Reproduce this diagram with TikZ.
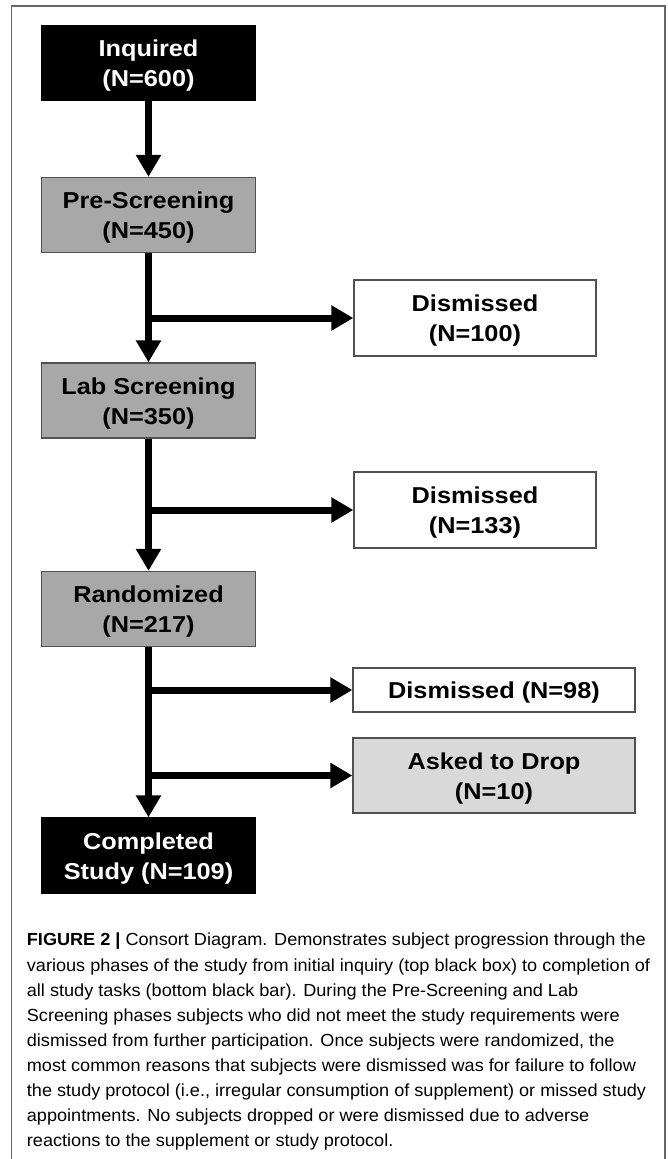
\documentclass[tikz,border=0pt]{standalone}
\usepackage{fontspec}
\setmainfont{Liberation Sans}
\newfontfamily\boxfont{Liberation Sans}[FakeStretch=1.1]
\newfontfamily\capfont{Liberation Sans}[FakeStretch=1.035]
\usetikzlibrary{arrows.meta}
\definecolor{boxline}{HTML}{505050}
\definecolor{boxgray}{HTML}{A8A8A8}
\definecolor{droplight}{HTML}{D9D9D9}
\definecolor{framegray}{HTML}{666666}
\newcommand\mystrut{\rule{0pt}{22pt}}
\begin{document}
\begin{tikzpicture}[x=1pt,y=-1pt,
  box/.style={draw=boxline, line width=1.3pt, inner sep=0pt, align=center,
    font=\boxfont\bfseries\fontsize{23}{30}\selectfont},
  mainbox/.style={box, minimum width=214pt, minimum height=75pt},
  darkbox/.style={mainbox, fill=black, draw=black, text=white},
  graybox/.style={mainbox, fill=boxgray},
  sidebox/.style={box, fill=white, minimum width=242pt, minimum height=76pt},
  widebox/.style={box, minimum width=282pt},
  flow/.style={line width=7pt, -{Triangle[width=24pt,length=22pt]}},
  caption/.style={inner sep=0pt, align=left, anchor=north west,
    font=\capfont\fontsize{17.5}{25.1}\selectfont}]
\useasboundingbox (0,0) rectangle (667,1159);
\fill[white] (0,0) rectangle (667,1159);
% frame
\draw[framegray, line width=1.4pt] (11.7,1170) -- (11.7,6) -- (665,6) -- (665,1170);
% main column
\node[darkbox] (inq) at (148.5,63.3) {\mystrut Inquired\\(N=600)};
\node[graybox] (pre) at (148.5,215) {\mystrut Pre-Screening\\(N=450)};
\node[graybox] (lab) at (148.5,400.5) {\mystrut Lab Screening\\(N=350)};
\node[graybox] (rand) at (148.5,609) {\mystrut Randomized\\(N=217)};
\node[darkbox] (comp) at (148.5,855.5) {\mystrut Completed\\Study (N=109)};
% side boxes
\node[sidebox] (d1) at (475,318) {\mystrut Dismissed\\(N=100)};
\node[sidebox] (d2) at (475,510) {\mystrut Dismissed\\(N=133)};
\node[widebox, fill=white, minimum height=44pt] (d3) at (494,690) {\mystrut Dismissed (N=98)};
\node[widebox, fill=droplight, minimum height=75pt] (drop) at (494,775.5) {\mystrut Asked to Drop\\(N=10)};
% connectors
\draw[flow] (inq.south) -- (pre.north);
\draw[flow] (pre.south) -- (lab.north);
\draw[flow] (lab.south) -- (rand.north);
\draw[flow] (rand.south) -- (comp.north);
\draw[flow] (pre.south |- d1.west) -- (d1.west);
\draw[flow] (lab.south |- d2.west) -- (d2.west);
\draw[flow] (rand.south |- d3.west) -- (d3.west);
\draw[flow] (rand.south |- drop.west) -- (drop.west);
% caption
\node[caption] (cap) at (26.7,932.7) {\rule{0pt}{13pt}\textbf{FIGURE 2 |} Consort Diagram. Demonstrates subject progression through the\\
various phases of the study from initial inquiry (top black box) to completion of\\
all study tasks (bottom black bar). During the Pre-Screening and Lab\\
Screening phases subjects who did not meet the study requirements were\\
dismissed from further participation. Once subjects were randomized, the\\
most common reasons that subjects were dismissed was for failure to follow\\
the study protocol (i.e., irregular consumption of supplement) or missed study\\
appointments. No subjects dropped or were dismissed due to adverse\\
reactions to the supplement or study protocol.};
\end{tikzpicture}
\end{document}
